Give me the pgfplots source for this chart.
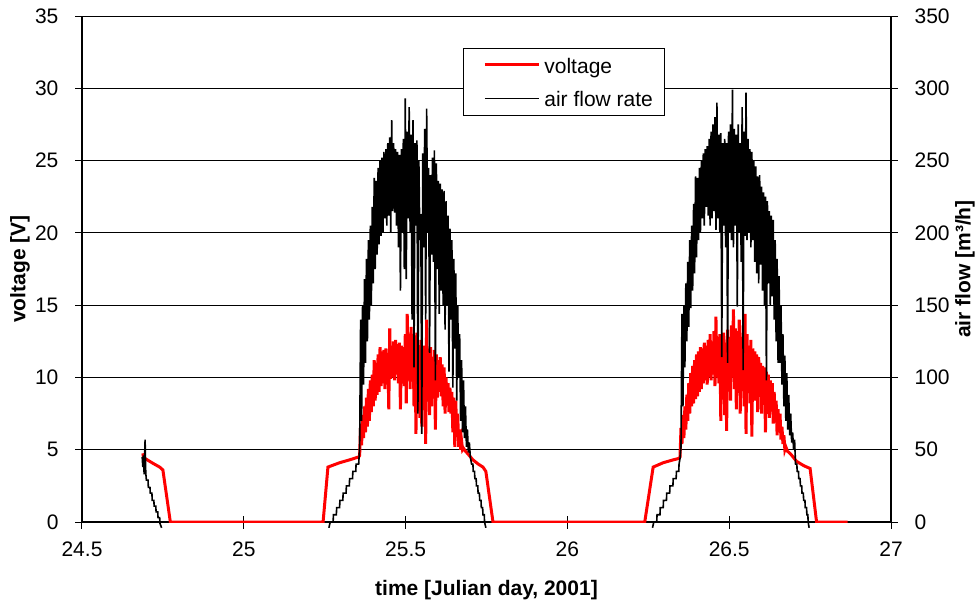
\documentclass[border=0pt]{standalone}
\usepackage{pgfplots}
\pgfplotsset{compat=1.18}
\usepackage{fontspec}
\setmainfont{Liberation Sans}

\pgfplotsset{
  base/.style={
    scale only axis, width=404.5pt, height=253pt,
    xmin=24.5, xmax=27,
    /pgf/number format/assume math mode=true,
    tick align=center, major tick length=6.5pt,
    tick style={black, line width=0.5pt},
    axis line style={black, line width=0.6pt, -},
  }
}

\begin{document}
\begin{tikzpicture}[font=\fontsize{10.5}{12.6}\selectfont]
% voltage, left axis
\begin{axis}[base,
  ymin=0, ymax=35, ytick={0,5,10,15,20,25,30,35},
  xtick={24.5,25,25.5,26,26.5,27},
  axis x line*=bottom, axis y line*=left,
  ymajorgrids, major grid style={black, line width=0.5pt},
  xlabel={\bfseries time [Julian day, 2001]},
  ylabel={\bfseries voltage [V]},
  xlabel style={at={(axis description cs:0.5,-0.134)}, anchor=center},
  ylabel style={at={(axis description cs:-0.0766,0.5)}, anchor=center},
  xticklabel style={yshift=-3pt},
  yticklabel style={xshift=-5pt},
]
\addplot[red, line width=1.5pt] table {
x y
24.688 4.75
24.690 4.5
24.693 4.4
24.698 4.35
24.720 4.05
24.740 3.8
24.750 3.6
24.773 0
25.245 0
25.260 3.8
25.296 4.1
25.327 4.3
25.355 4.5
25.358 4.6
25.361 6.8
25.364 5.3
25.367 7.4
25.370 5.8
25.373 8.0
25.376 6.2
25.379 8.6
25.382 6.6
25.385 9.2
25.388 7.0
25.391 9.8
25.394 7.6
25.397 10.2
25.400 8.0
25.403 11.2
25.406 8.4
25.409 11.0
25.412 8.8
25.415 11.6
25.418 9.0
25.421 12.1
25.424 9.4
25.427 11.8
25.430 9.6
25.433 11.9
25.436 9.2
25.439 12.0
25.442 9.8
25.445 11.7
25.448 7.8
25.451 13.4
25.454 9.9
25.457 12.2
25.460 10.0
25.463 12.5
25.466 9.8
25.469 12.6
25.472 10.2
25.475 12.3
25.478 9.6
25.481 12.4
25.484 7.8
25.487 12.2
25.490 9.9
25.493 12.1
25.496 9.4
25.499 13.0
25.502 8.2
25.505 14.4
25.508 10.0
25.511 12.8
25.514 9.2
25.517 13.5
25.520 10.2
25.523 12.4
25.526 8.0
25.529 12.9
25.532 6.1
25.535 13.1
25.538 9.0
25.541 12.0
25.544 7.2
25.547 12.6
25.550 6.6
25.553 11.8
25.556 8.8
25.559 12.2
25.562 5.4
25.565 14.0
25.568 9.0
25.571 11.6
25.574 7.4
25.577 12.1
25.580 8.0
25.583 11.4
25.586 9.2
25.589 11.9
25.592 6.4
25.595 11.6
25.598 8.6
25.601 11.2
25.604 9.0
25.607 11.4
25.610 8.7
25.613 10.9
25.616 8.0
25.619 10.7
25.622 7.5
25.625 10.0
25.628 8.2
25.631 9.6
25.634 7.6
25.637 9.3
25.640 7.5
25.643 9.0
25.646 6.2
25.649 8.6
25.652 5.2
25.655 8.4
25.658 6.0
25.661 7.5
25.664 5.2
25.667 6.4
25.670 5.0
25.673 5.6
25.676 5.0
25.679 5.1
25.685 4.9
25.693 4.7
25.708 4.3
25.725 4.0
25.739 3.8
25.748 3.5
25.770 0
26.239 0
26.265 3.8
26.296 4.1
26.327 4.3
26.345 4.4
26.348 4.5
26.351 6.5
26.354 5.4
26.357 7.4
26.360 5.8
26.363 8.0
26.366 6.4
26.369 8.8
26.372 7.0
26.375 9.6
26.378 7.5
26.381 10.3
26.384 8.0
26.387 10.8
26.390 8.2
26.393 11.2
26.396 8.5
26.399 11.6
26.402 8.7
26.405 11.8
26.408 9.0
26.411 12.1
26.414 9.2
26.417 12.0
26.420 9.6
26.423 12.4
26.426 9.8
26.429 12.2
26.432 9.5
26.435 12.6
26.438 10.0
26.441 13.0
26.444 9.8
26.447 12.5
26.450 10.2
26.453 13.2
26.456 9.4
26.459 14.2
26.462 10.0
26.465 12.8
26.468 9.6
26.471 13.0
26.474 7.0
26.477 12.6
26.480 9.8
26.483 13.1
26.486 7.4
26.489 12.4
26.492 6.3
26.495 13.3
26.498 9.6
26.501 12.8
26.504 8.4
26.507 13.6
26.510 10.2
26.513 14.7
26.516 9.2
26.519 13.4
26.522 7.8
26.525 13.2
26.528 9.8
26.531 14.0
26.534 7.5
26.537 12.8
26.540 9.6
26.543 13.6
26.546 8.0
26.549 14.4
26.552 6.1
26.555 13.0
26.558 9.4
26.561 12.2
26.564 8.2
26.567 12.6
26.570 5.9
26.573 12.0
26.576 9.0
26.579 11.8
26.582 8.4
26.585 11.6
26.588 7.6
26.591 11.4
26.594 9.0
26.597 11.0
26.600 7.5
26.603 10.8
26.606 8.4
26.609 10.7
26.612 6.2
26.615 10.4
26.618 8.6
26.621 10.2
26.624 7.2
26.627 9.8
26.630 8.0
26.633 9.6
26.636 6.8
26.639 9.0
26.642 7.0
26.645 8.4
26.648 6.0
26.651 7.8
26.654 6.2
26.657 7.5
26.660 5.7
26.663 6.6
26.666 5.4
26.669 6.0
26.672 5.0
26.675 5.2
26.680 4.9
26.690 4.7
26.708 4.2
26.730 3.9
26.750 3.7
26.770 0
26.866 0
};
\end{axis}

% air flow, right axis
\begin{axis}[base,
  ymin=0, ymax=350, ytick={0,50,100,150,200,250,300,350},
  axis x line=none, axis y line*=right,
  ylabel={\bfseries air flow [m³/h]},
  ylabel style={at={(axis description cs:1.0915,0.5)}, anchor=center},
  yticklabel style={xshift=5pt},
  clip=false, unbounded coords=jump,
  legend style={at={(axis description cs:0.596,0.870)}, anchor=center,
    draw=black, line width=0.5pt, fill=white,
    inner xsep=4pt, inner ysep=1.5pt, row sep=3pt,
    nodes={inner sep=2pt, text height=9pt, text depth=0.8pt}},
  legend cell align=left,
  legend image code/.code={\path (-6pt,0pt); \draw[#1] (0pt,0pt) -- (27pt,0pt);},
]
\addlegendimage{red, line width=1.5pt}
\addlegendentry{voltage}
\addplot[black, line width=0.8pt] table {
x y
24.686 45
24.688 38
24.690 46
24.692 33
24.695 57
24.697 34
24.699 29
24.704 29
24.705 24
24.710 24
24.711 20
24.716 20
24.717 15
24.722 15
24.723 11
24.728 11
24.729 7
24.734 7
24.735 3
24.740 3
24.741 -1
24.746 -4
25.0 nan
25.263 -4
25.267 0
25.276 0
25.277 5
25.286 5
25.287 10
25.296 10
25.297 15
25.306 15
25.307 20
25.316 20
25.317 25
25.326 25
25.327 30
25.336 30
25.337 35
25.346 35
25.347 40
25.355 40
25.358 52
25.361 140
25.364 70
25.367 150
25.370 95
25.373 168
25.376 110
25.379 182
25.382 125
25.385 195
25.388 140
25.391 205
25.394 150
25.397 218
25.400 165
25.403 238
25.406 175
25.409 236
25.412 185
25.415 245
25.418 192
25.421 250
25.424 198
25.427 252
25.430 200
25.433 256
25.436 210
25.439 258
25.442 205
25.445 262
25.448 212
25.451 266
25.454 200
25.457 278
25.460 215
25.463 262
25.466 214
25.469 258
25.472 205
25.475 256
25.478 190
25.481 254
25.484 160
25.487 258
25.490 200
25.493 265
25.496 175
25.499 293
25.502 168
25.505 270
25.508 210
25.511 287
25.514 200
25.517 268
25.520 140
25.523 278
25.526 107
25.529 262
25.532 205
25.535 264
25.538 75
25.541 250
25.544 195
25.547 213
25.550 61
25.553 255
25.556 190
25.559 272
25.562 140
25.565 286
25.568 200
25.571 245
25.574 117
25.577 240
25.580 185
25.583 252
25.586 180
25.589 257
25.592 98
25.595 248
25.598 175
25.601 236
25.604 144
25.607 234
25.610 160
25.613 230
25.616 150
25.619 229
25.622 133
25.625 222
25.628 150
25.631 212
25.634 104
25.637 203
25.640 140
25.643 195
25.646 93
25.649 182
25.652 120
25.655 172
25.658 84
25.661 150
25.664 100
25.667 130
25.670 70
25.673 112
25.676 62
25.679 98
25.682 58
25.685 80
25.688 52
25.691 64
25.694 48
25.697 55
25.700 45
25.704 40
25.708 40
25.709 35
25.713 35
25.714 30
25.718 30
25.719 25
25.723 25
25.724 20
25.728 20
25.729 15
25.733 15
25.734 10
25.738 10
25.739 5
25.743 5
25.744 0
25.748 -4
26.0 nan
26.263 -4
26.267 0
26.276 0
26.277 5
26.286 5
26.287 10
26.296 10
26.297 15
26.306 15
26.307 20
26.316 20
26.317 25
26.326 25
26.327 30
26.336 30
26.337 35
26.344 35
26.345 40
26.348 44
26.351 52
26.354 144
26.357 80
26.360 150
26.363 107
26.366 165
26.369 125
26.372 180
26.375 135
26.378 195
26.381 148
26.384 205
26.387 160
26.390 220
26.393 172
26.396 239
26.399 183
26.402 238
26.405 195
26.408 245
26.411 200
26.414 250
26.417 210
26.420 255
26.423 205
26.426 258
26.429 218
26.432 260
26.435 212
26.438 265
26.441 205
26.444 270
26.447 210
26.450 275
26.453 215
26.456 280
26.459 202
26.462 290
26.465 210
26.468 268
26.471 200
26.474 269
26.477 114
26.480 262
26.483 205
26.486 265
26.489 190
26.492 262
26.495 110
26.498 270
26.501 200
26.504 275
26.507 195
26.510 299
26.513 190
26.516 272
26.519 205
26.522 268
26.525 149
26.528 275
26.531 200
26.534 262
26.537 180
26.540 287
26.543 105
26.546 270
26.549 198
26.552 297
26.555 195
26.558 265
26.561 200
26.564 258
26.567 190
26.570 256
26.573 195
26.576 250
26.579 180
26.582 246
26.585 172
26.588 239
26.591 165
26.594 240
26.597 178
26.600 232
26.603 160
26.606 228
26.609 150
26.612 225
26.615 98
26.618 222
26.621 165
26.624 215
26.627 150
26.630 212
26.633 156
26.636 209
26.639 140
26.642 195
26.645 125
26.648 182
26.651 110
26.654 170
26.657 110
26.660 150
26.663 95
26.666 130
26.669 80
26.672 115
26.675 70
26.678 103
26.681 64
26.684 88
26.687 60
26.690 75
26.693 55
26.696 62
26.699 50
26.702 57
26.705 40
26.709 40
26.710 35
26.714 35
26.715 30
26.719 30
26.720 25
26.724 25
26.725 20
26.729 20
26.730 15
26.734 15
26.735 10
26.739 10
26.740 5
26.743 5
26.744 0
26.747 -4
};
\addlegendentry{air flow rate}
\end{axis}
\pgfresetboundingbox
\path (-41pt,-40pt) rectangle (447.5pt,261pt);
\end{tikzpicture}
\end{document}
